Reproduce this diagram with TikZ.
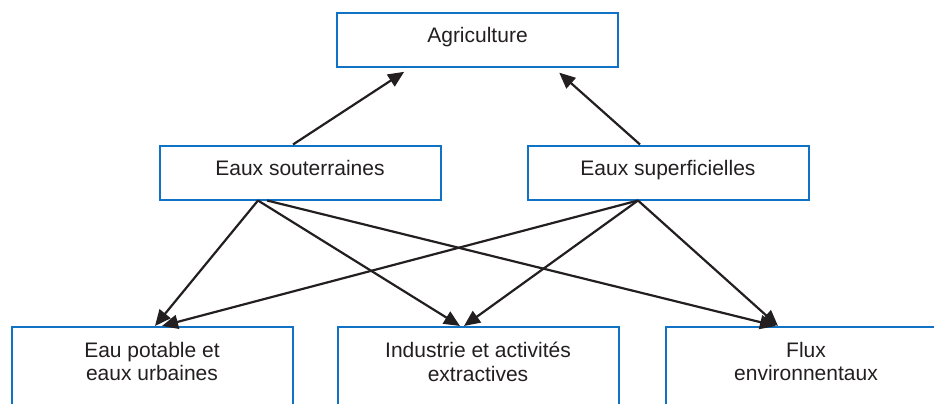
\documentclass[tikz,border=0pt]{standalone}
\usepackage{fontspec}
\setmainfont{Liberation Sans}
\usetikzlibrary{arrows.meta}
\definecolor{boxblue}{RGB}{16,114,196}
\definecolor{ink}{RGB}{35,31,32}
\begin{document}
\begin{tikzpicture}[x=1pt,y=-1pt,
  box/.style={draw=boxblue, line width=2pt, fill=white, minimum width=281pt,
    minimum height=54pt, inner sep=0pt},
  txt/.style={font=\fontsize{21}{23.5}\selectfont, text=ink, align=center, inner sep=0pt},
  oneline/.style={text height=15.5pt, text depth=9.5pt},
  arr/.style={draw=ink, line width=2.2pt, -{Triangle[length=16pt,width=14pt]}}
]
\clip (0,0) rectangle (934,404);

% upper level
\node (agri) [box, txt, oneline] at (477.5,40) {Agriculture};
\node (sout) [box, txt, oneline] at (300,172.5) {Eaux souterraines};
\node (sup)  [box, txt, oneline] at (668,172.5) {Eaux superficielles};

% lower level (boxes run past the lower edge)
\node (pot) [box, minimum height=120pt, anchor=north] at (152,326) {};
\node (ind) [box, minimum height=120pt, anchor=north] at (478,326) {};
\node (flx) [box, minimum height=120pt, anchor=north] at (806,326) {};
\node (potT) [txt, anchor=north] at (152,342) {Eau potable et\\eaux urbaines};
\node (indT) [txt, anchor=north] at (478,342) {Industrie et activités\\extractives};
\node (flxT) [txt, anchor=north] at (806,342) {Flux\\environnentaux};

% towards agriculture
\draw[arr, shorten >=7pt] ([xshift=-7pt]sout.north) -- ([xshift=-67.5pt]agri.south);
\draw[arr, shorten >=7pt] ([xshift=-28pt]sup.north) -- ([xshift=76.5pt]agri.south);

% from groundwater
\draw[arr] ([xshift=-42pt]sout.south) -- ([xshift=3pt]pot.north);
\draw[arr] ([xshift=-42pt]sout.south) -- ([xshift=-18pt]ind.north);
\draw[arr] ([xshift=-33pt]sout.south) -- ([xshift=-30pt]flx.north);

% from surface water
\draw[arr] ([xshift=-30pt]sup.south) -- ([xshift=10pt]pot.north);
\draw[arr] ([xshift=-30pt]sup.south) -- ([xshift=-14pt]ind.north);
\draw[arr] ([xshift=-30pt]sup.south) -- ([xshift=-28pt]flx.north);
\end{tikzpicture}
\end{document}
